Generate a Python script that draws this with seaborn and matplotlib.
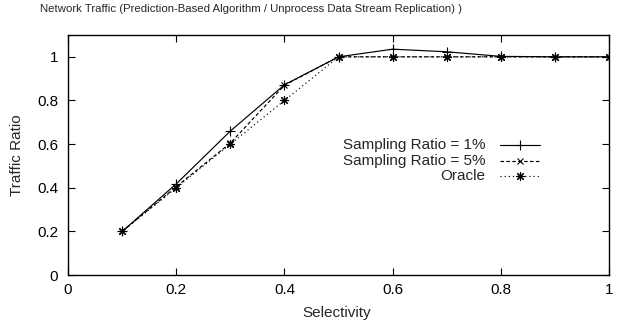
import seaborn as sns
import pandas as pd
import matplotlib
matplotlib.use("Agg")
import matplotlib.pyplot as plt
from matplotlib.lines import Line2D

# data
selectivity = [0.1, 0.2, 0.3, 0.4, 0.5, 0.6, 0.7, 0.8, 0.9, 1.0]
ratio_1pct = [0.20, 0.418, 0.66, 0.872, 1.0, 1.035, 1.023, 1.002, 1.0, 1.0]
ratio_5pct = [0.20, 0.405, 0.605, 0.87, 1.0, 1.0, 1.0, 1.0, 1.0, 1.0]
oracle = [0.20, 0.40, 0.60, 0.80, 1.0, 1.0, 1.0, 1.0, 1.0, 1.0]

series_names = ["Sampling Ratio = 1%", "Sampling Ratio = 5%", "Oracle"]
x_ticks = [0, 0.2, 0.4, 0.6, 0.8, 1]
y_ticks = [0, 0.2, 0.4, 0.6, 0.8, 1]

sns.set_style("ticks")
plt.rcParams['font.family'] = ['Liberation Sans', 'DejaVu Sans']
fs = 11

fig = plt.figure(figsize=(6.19, 3.24), dpi=100)
ax = fig.add_axes([0.110, 0.151, 0.874, 0.741])

# (linestyle, marker, markersize)
styles = [
    ("-", "+", 6.5),
    ((0, (3, 2)), "x", 4.5),
    ((0, (1, 2.5)), (8, 2, 0), 6.5),
]
for name, values, (ls, mk, ms) in zip(series_names, [ratio_1pct, ratio_5pct, oracle], styles):
    df = pd.DataFrame({"Selectivity": selectivity, "Traffic Ratio": values})
    sns.lineplot(data=df, x="Selectivity", y="Traffic Ratio", ax=ax, color="black",
                 linestyle=ls, marker=mk, markersize=ms, markeredgewidth=0.8,
                 markeredgecolor="black", linewidth=0.85, legend=False)

ax.set_xlim(0, 1)
ax.set_ylim(0, 1.1)
ax.set_xticks(x_ticks)
ax.set_xticklabels([f"{v:g}" for v in x_ticks])
ax.set_yticks(y_ticks)
ax.set_yticklabels([f"{v:g}" for v in y_ticks])
ax.tick_params(axis="both", direction="in", top=True, right=True, length=5, width=0.8,
               colors="black", labelsize=fs)
ax.tick_params(axis="x", pad=6)
ax.tick_params(axis="y", pad=7)
for s in ax.spines.values():
    s.set_visible(True)
    s.set_linewidth(1.0)
    s.set_color("black")
ax.set_xlabel("Selectivity", fontsize=fs)
ax.set_ylabel("Traffic Ratio", fontsize=fs)
ax.xaxis.set_label_coords(0.496, -0.13)
ax.yaxis.set_label_coords(-0.082, 0.5)

fig.text(0.406, 0.972, "Network Traffic (Prediction-Based Algorithm / Unprocess Data Stream Replication) )",
         ha="center", va="center", fontsize=8.2)

# gnuplot-style key: right-aligned labels, samples on the right
key_rows = [0.542, 0.476, 0.411]
for name, (ls, mk, ms), ky in zip(series_names, styles, key_rows):
    ax.text(0.771, ky, name, transform=ax.transAxes, ha="right", va="center", fontsize=fs)
    ax.add_line(Line2D([0.799, 0.872], [ky, ky], transform=ax.transAxes, color="black",
                       linestyle=ls, linewidth=0.85))
    ax.add_line(Line2D([0.835], [ky], transform=ax.transAxes, color="black",
                       marker=mk, markersize=ms, markeredgewidth=0.8, linestyle="none"))

plt.savefig("out.png", dpi=100)
